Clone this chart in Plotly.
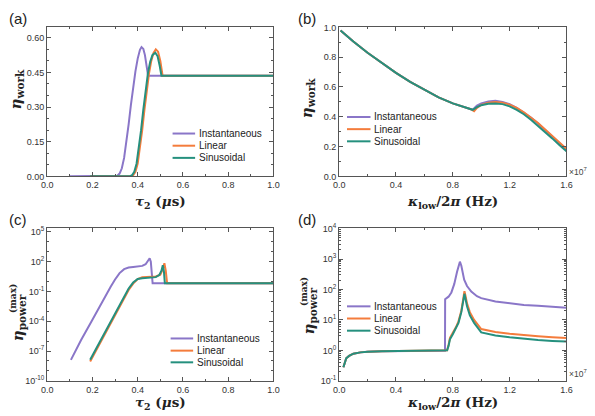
import plotly.graph_objects as go

W, H = 595, 416
PURPLE = "#8a76c8"
ORANGE = "#f47c3c"
TEAL = "#25907e"

# ---------------- Panel (a): eta_work vs tau_2 ----------------
a_inst_x = [0.10, 0.30, 0.31, 0.32, 0.33, 0.34, 0.35, 0.36, 0.37, 0.38, 0.39, 0.40, 0.41, 0.417, 0.425, 0.432, 0.44, 0.446, 1.0]
a_inst_y = [0.0, 0.0, 0.003, 0.012, 0.035, 0.08, 0.145, 0.225, 0.31, 0.39, 0.455, 0.51, 0.548, 0.56, 0.552, 0.525, 0.48, 0.436, 0.436]
a_lin_x = [0.19, 0.37, 0.38, 0.39, 0.40, 0.41, 0.42, 0.43, 0.44, 0.45, 0.46, 0.47, 0.48, 0.49, 0.50, 0.51, 1.0]
a_lin_y = [0.0, 0.0, 0.005, 0.02, 0.055, 0.12, 0.2, 0.29, 0.375, 0.445, 0.5, 0.535, 0.55, 0.54, 0.5, 0.436, 0.436]
a_sin_x = [0.19, 0.365, 0.375, 0.385, 0.395, 0.405, 0.415, 0.425, 0.435, 0.445, 0.455, 0.465, 0.478, 0.488, 0.497, 0.505, 1.0]
a_sin_y = [0.0, 0.0, 0.005, 0.02, 0.055, 0.12, 0.2, 0.29, 0.375, 0.445, 0.495, 0.525, 0.535, 0.52, 0.48, 0.436, 0.436]

# ---------------- Panel (b): eta_work vs kappa_low/2pi (x10^7 Hz) ----------------
b_common_x = [0.01, 0.1, 0.2, 0.3, 0.4, 0.5, 0.6, 0.7, 0.8, 0.9, 0.94]
b_common_y = [0.98, 0.905, 0.83, 0.76, 0.695, 0.635, 0.58, 0.53, 0.49, 0.46, 0.447]
b_inst_x = b_common_x + [0.97, 1.0, 1.05, 1.1, 1.15, 1.2, 1.25, 1.3, 1.35, 1.4, 1.45, 1.5, 1.55, 1.6]
b_inst_y = b_common_y + [0.475, 0.49, 0.503, 0.507, 0.5, 0.485, 0.46, 0.43, 0.395, 0.355, 0.31, 0.265, 0.22, 0.18]
b_lin_x = b_common_x[:-1] + [0.93, 0.95, 0.97, 1.0, 1.05, 1.1, 1.15, 1.2, 1.25, 1.3, 1.35, 1.4, 1.45, 1.5, 1.55, 1.6]
b_lin_y = b_common_y[:-1] + [0.45, 0.437, 0.46, 0.48, 0.495, 0.5, 0.495, 0.482, 0.46, 0.43, 0.397, 0.358, 0.315, 0.27, 0.227, 0.185]
b_sin_x = b_common_x + [0.97, 1.0, 1.05, 1.1, 1.15, 1.2, 1.25, 1.3, 1.35, 1.4, 1.45, 1.5, 1.55, 1.6]
b_sin_y = b_common_y + [0.465, 0.478, 0.488, 0.49, 0.485, 0.47, 0.447, 0.417, 0.38, 0.34, 0.297, 0.255, 0.21, 0.168]

# ---------------- Panel (c): eta_power^(max) vs tau_2 ----------------
c_inst_x = [0.105, 0.15, 0.2, 0.25, 0.28, 0.30, 0.32, 0.34, 0.36, 0.38, 0.40, 0.42, 0.435, 0.445, 0.453, 0.458, 0.463, 0.466, 1.0]
c_inst_y = [1.3e-8, 1.3e-6, 1.4e-4, 1.8e-2, 0.28, 1.6, 7.1, 17.8, 26, 30, 33, 38, 56, 112, 224, 100, 6.3, 0.66, 0.66]
c_lin_x = [0.19, 0.23, 0.27, 0.31, 0.34, 0.36, 0.38, 0.40, 0.42, 0.45, 0.48, 0.50, 0.51, 0.518, 0.524, 0.53, 1.0]
c_lin_y = [8.9e-9, 4.5e-7, 2.5e-5, 1.4e-3, 2.5e-2, 0.14, 0.63, 1.8, 2.8, 3.2, 3.3, 5.0, 15.8, 70.8, 12.6, 0.66, 0.66]
c_sin_x = [0.19, 0.23, 0.27, 0.31, 0.34, 0.36, 0.38, 0.40, 0.42, 0.45, 0.48, 0.495, 0.505, 0.511, 0.516, 0.52, 1.0]
c_sin_y = [1.3e-8, 6.3e-7, 3.5e-5, 2.0e-3, 3.5e-2, 0.2, 0.79, 1.8, 2.2, 2.5, 2.8, 4.5, 12.6, 44.7, 10.0, 0.66, 0.66]

# ---------------- Panel (d): eta_power^(max) vs kappa_low/2pi ----------------
d_common_x = [0.03, 0.05, 0.07, 0.1, 0.15, 0.2, 0.3, 0.4, 0.5, 0.6, 0.7, 0.745]
d_common_y = [0.28, 0.55, 0.66, 0.78, 0.86, 0.9, 0.93, 0.95, 0.96, 0.97, 0.98, 0.98]
d_inst_x = d_common_x + [0.746, 0.77, 0.79, 0.81, 0.83, 0.85, 0.86, 0.87, 0.88, 0.9, 0.93, 0.97, 1.0, 1.1, 1.2, 1.3, 1.4, 1.5, 1.6]
d_inst_y = d_common_y + [48, 58, 80, 150, 380, 820, 600, 330, 210, 130, 85, 60, 52, 40, 35, 31, 29, 27, 25]
d_lin_x = d_common_x + [0.76, 0.77, 0.78, 0.80, 0.82, 0.84, 0.86, 0.875, 0.882, 0.89, 0.90, 0.92, 0.95, 1.0, 1.1, 1.2, 1.3, 1.4, 1.5, 1.6]
d_lin_y = d_common_y + [1.0, 1.5, 2.6, 3.8, 5.5, 9, 20, 55, 88, 60, 35, 18, 10, 5.0, 4.0, 3.5, 3.1, 2.9, 2.7, 2.55]
d_sin_x = d_common_x + [0.76, 0.77, 0.78, 0.80, 0.82, 0.84, 0.86, 0.875, 0.882, 0.89, 0.90, 0.92, 0.95, 1.0, 1.1, 1.2, 1.3, 1.4, 1.5, 1.6]
d_sin_y = d_common_y + [1.0, 1.4, 2.3, 3.4, 5.0, 8, 18, 48, 72, 48, 28, 14, 8, 3.9, 3.1, 2.7, 2.4, 2.2, 2.05, 1.95]

series_names = ["Instantaneous", "Linear", "Sinusoidal"]
series_colors = [PURPLE, ORANGE, TEAL]

c_ticks = [1e-10, 1e-7, 1e-4, 1e-1, 1e2, 1e5]
c_ticktext = ["10<sup>-10</sup>", "10<sup>-7</sup>", "10<sup>-4</sup>", "10<sup>-1</sup>", "10<sup>2</sup>", "10<sup>5</sup>"]
d_ticks = [1e-1, 1e0, 1e1, 1e2, 1e3, 1e4]
d_ticktext = ["10<sup>-1</sup>", "10<sup>0</sup>", "10<sup>1</sup>", "10<sup>2</sup>", "10<sup>3</sup>", "10<sup>4</sup>"]


def px(x):
    return x / W


def py(y):
    return 1 - y / H


fig = go.Figure()

panels = [
    ("x", "y", [(a_inst_x, a_inst_y), (a_lin_x, a_lin_y), (a_sin_x, a_sin_y)]),
    ("x2", "y2", [(b_inst_x, b_inst_y), (b_lin_x, b_lin_y), (b_sin_x, b_sin_y)]),
    ("x3", "y3", [(c_inst_x, c_inst_y), (c_lin_x, c_lin_y), (c_sin_x, c_sin_y)]),
    ("x4", "y4", [(d_inst_x, d_inst_y), (d_lin_x, d_lin_y), (d_sin_x, d_sin_y)]),
]
for xa, ya, data in panels:
    for (xs, ys), name, col in zip(data, series_names, series_colors):
        fig.add_trace(go.Scatter(x=xs, y=ys, mode="lines", name=name, xaxis=xa, yaxis=ya,
                                 line=dict(color=col, width=2), showlegend=False))

TICKFONT = dict(family="Liberation Sans, Arial, sans-serif", size=9, color="#333")
LINECOL = "#555"

def axstyle(**kw):
    d = dict(showline=True, linecolor=LINECOL, linewidth=1, mirror="allticks", ticks="inside",
             ticklen=4, tickcolor=LINECOL, showgrid=False, zeroline=False, tickfont=TICKFONT)
    d.update(kw)
    return d

MINOR = dict(ticklen=2, tickcolor=LINECOL, ticks="inside", showgrid=False)

# domains (pixel positions)
xa_dom = [px(42), px(273)]
xb_dom = [px(340), px(572)]
ytop_dom = [py(175), py(22)]
ybot_dom = [py(385), py(228)]

fig.update_layout(
    width=W, height=H, margin=dict(l=0, r=0, t=0, b=0),
    paper_bgcolor="white", plot_bgcolor="white", showlegend=False,
    xaxis=axstyle(domain=xa_dom, anchor="y", range=[0, 1], dtick=0.2, tickformat=".1f",
                  minor=dict(dtick=0.1, **MINOR)),
    yaxis=axstyle(domain=ytop_dom, anchor="x", range=[0, 0.645], dtick=0.15, tickformat=".2f",
                  minor=dict(dtick=0.05, **MINOR)),
    xaxis2=axstyle(domain=xb_dom, anchor="y2", range=[0, 1.6], dtick=0.4, tickformat=".1f",
                   minor=dict(dtick=0.2, **MINOR)),
    yaxis2=axstyle(domain=ytop_dom, anchor="x2", range=[0, 1.0], dtick=0.2, tickformat=".1f",
                   minor=dict(dtick=0.1, **MINOR)),
    xaxis3=axstyle(domain=xa_dom, anchor="y3", range=[0, 1], dtick=0.2, tickformat=".1f",
                   minor=dict(dtick=0.1, **MINOR)),
    yaxis3=axstyle(domain=ybot_dom, anchor="x3", type="log", range=[-10, 5.4],
                   tickmode="array", tickvals=c_ticks, ticktext=c_ticktext,
                   minor=dict(tickmode="array", tickvals=[10.0 ** k for k in range(-10, 6)], **MINOR)),
    xaxis4=axstyle(domain=xb_dom, anchor="y4", range=[0, 1.6], dtick=0.4, tickformat=".1f",
                   minor=dict(dtick=0.2, **MINOR)),
    yaxis4=axstyle(domain=ybot_dom, anchor="x4", type="log", range=[-1, 4.02],
                   tickmode="array", tickvals=d_ticks, ticktext=d_ticktext,
                   minor=dict(dtick="D1", **MINOR)),
)

SERIF = "DejaVu Serif, Liberation Serif, serif"
SANS = "Liberation Sans, Arial, sans-serif"
ann = []

def add_text(x, y, text, size, family=SANS, angle=0, xanchor="center", yanchor="middle", color="#222"):
    ann.append(dict(x=px(x), y=py(y), xref="paper", yref="paper", text=text, showarrow=False,
                    font=dict(family=family, size=size, color=color), textangle=angle,
                    xanchor=xanchor, yanchor=yanchor))

# panel labels
add_text(1, 13, "(a)", 15, xanchor="left")
add_text(296, 13, "(b)", 15, xanchor="left")
add_text(1, 219, "(c)", 15, xanchor="left")
add_text(296, 219, "(d)", 15, xanchor="left")

# x titles
tau_title = "<b><i>τ</i><sub>2</sub> (<i>μ</i>s)</b>"
kap_title = "<b><i>κ</i><sub>low</sub>/2<i>π</i> (Hz)</b>"
add_text(158, 201, tau_title, 13.5, family=SERIF)
add_text(456, 201, kap_title, 13.5, family=SERIF)
add_text(158, 407.5, tau_title, 13.5, family=SERIF)
add_text(456, 407.5, kap_title, 13.5, family=SERIF)

# y titles
add_text(11, 86, "<b><i>η</i><sub>work</sub></b>", 15, family=SERIF, angle=-90)
add_text(308, 95, "<b><i>η</i><sub>work</sub></b>", 15, family=SERIF, angle=-90)
add_text(13, 320, "<b><i>η</i><sub>power</sub></b>", 15, family=SERIF, angle=-90)
add_text(7, 300, "<b>(max)</b>", 9, family=SERIF, angle=-90)
add_text(310, 313, "<b><i>η</i><sub>power</sub></b>", 15, family=SERIF, angle=-90)
add_text(304, 293, "<b>(max)</b>", 9, family=SERIF, angle=-90)

# x10^7 multipliers
add_text(573, 170, "×10<sup>7</sup>", 8.5, xanchor="left", color="#444")
add_text(573, 377, "×10<sup>7</sup>", 8.5, xanchor="left", color="#444")

# manual legends
legend_pos = [
    (170, 193, [131, 143.5, 156]),
    (348, 372, [114, 126.5, 139]),
    (168, 191, [341.5, 354, 366]),
    (348, 372, [308.5, 321, 333.5]),
]
shapes = []
for x0, x1, rows in legend_pos:
    for yy, name, col in zip(rows, series_names, series_colors):
        shapes.append(dict(type="line", xref="paper", yref="paper", x0=px(x0), x1=px(x1),
                           y0=py(yy), y1=py(yy), line=dict(color=col, width=2)))
        add_text(x1 + 2, yy, name, 10, xanchor="left", color="#222")

fig.update_layout(annotations=ann, shapes=shapes)
fig.write_html("out.html", config={"displayModeBar": False},
               post_script="document.body.style.margin='0';document.body.style.overflow='hidden';")
